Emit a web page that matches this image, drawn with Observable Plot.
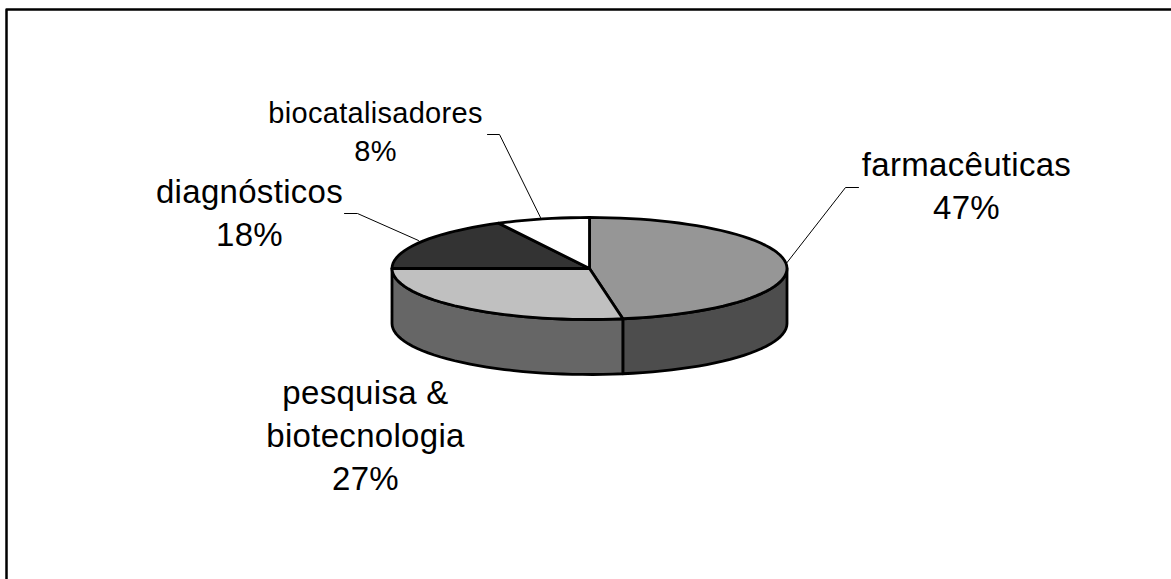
<!DOCTYPE html>
<html><head><meta charset="utf-8">
<style>html,body{margin:0;padding:0;background:#fff}svg{display:block}</style>
<script src="https://cdn.jsdelivr.net/npm/d3@7"></script>
<script src="https://cdn.jsdelivr.net/npm/@observablehq/plot@0.6"></script>
</head><body><div id="chart"></div>
<script>
const categories = ["farmacêuticas", "pesquisa &\nbiotecnologia", "diagnósticos", "biocatalisadores"];
const shares = [47, 27, 18, 8];              // printed labels
const sliceShares = [47.3, 27.7, 17.4, 7.6];
const topColors = ["#969696", "#c0c0c0", "#333333", "#ffffff"];
const sideColors = ["#4d4d4d", "#666666", "#333333", "#ffffff"];

const W = 1171, H = 579;
const cx = 589, cy = 268, rx = 197.5, ry = 51, depth = 55;
const pt = (deg, dy = 0) => {
  const a = deg * Math.PI / 180;
  return [cx + rx * Math.sin(a), cy - ry * Math.cos(a) + dy];
};
let acc = 0;
const spans = sliceShares.map(s => { const a0 = acc * 3.6; acc += s; return [a0, acc * 3.6]; });
const arc = (a0, a1, dy = 0) => {
  const n = Math.max(2, Math.ceil((a1 - a0) / 3)), out = [];
  for (let i = 0; i <= n; i++) out.push(pt(a0 + (a1 - a0) * i / n, dy));
  return out;
};
const poly = [];
spans.forEach(([a0, a1], i) => {
  const s = Math.max(a0, 90), e = Math.min(a1, 270);
  if (s >= e) return;
  const ring = [...arc(s, e), ...arc(s, e, depth).reverse()];
  ring.forEach(([x, y]) => poly.push({x, y, z: "side" + i, fill: sideColors[i]}));
});
spans.forEach(([a0, a1], i) => {
  const ring = [[cx, cy], ...arc(a0, a1)];
  ring.forEach(([x, y]) => poly.push({x, y, z: "top" + i, fill: topColors[i]}));
});

const labels = [
  {text: categories[0] + "\n" + shares[0] + "%", x: 966, y: 218, size: 33},
  {text: categories[1] + "\n" + shares[1] + "%", x: 365, y: 489, size: 33},
  {text: categories[2] + "\n" + shares[2] + "%", x: 249, y: 245, size: 33},
  {text: categories[3] + "\n" + shares[3] + "%", x: 375, y: 160, size: 29}
];
const leaders = [
  [[785, 264], [845, 187], [858, 187]],
  [[418, 240], [357, 213], [344, 213]],
  [[540, 217], [499, 134], [487, 134]]
].flatMap((l, i) => l.map(([x, y]) => ({x, y, z: i})));
const frame = [[6, 579], [6, 9], [1171, 9]].map(([x, y]) => ({x, y}));

const plot = Plot.plot({
  width: W, height: H, margin: 0,
  x: {type: "linear", domain: [0, W], range: [0, W], axis: null},
  y: {type: "linear", domain: [0, H], range: [0, H], axis: null},
  marks: [
    Plot.line(frame, {x: "x", y: "y", stroke: "#000", strokeWidth: 2.5, curve: "linear"}),
    Plot.line(leaders, {x: "x", y: "y", z: "z", stroke: "#000", strokeWidth: 1, curve: "linear"}),
    Plot.line(poly, {x: "x", y: "y", z: "z", fill: "fill", stroke: "#000", strokeWidth: 2.8, curve: "linear-closed", strokeLinejoin: "round"}),
    ...labels.map(l => Plot.text([l], {
      x: "x", y: "y", text: "text", fontSize: l.size, lineHeight: 1.3,
      textAnchor: "middle", lineAnchor: "bottom",
      fill: "#000", fontFamily: "Liberation Sans, Arial, sans-serif"
    }))
  ],
  style: {background: "#fff", letterSpacing: "0.3px"}
});
document.getElementById("chart").append(plot);
</script></body></html>
